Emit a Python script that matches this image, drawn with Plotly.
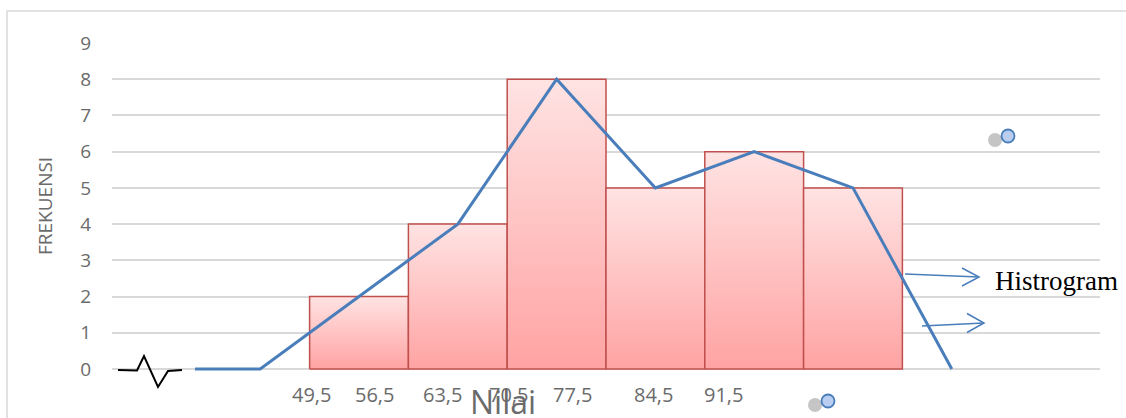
import plotly.graph_objects as go

# ---- data ----
class_bounds = [49.5, 56.5, 63.5, 70.5, 77.5, 84.5, 91.5]
tick_labels = ["49,5", "56,5", "63,5", "70,5", "77,5", "84,5", "91,5"]
frekuensi = [2, 4, 8, 5, 6, 5]
bar_start = 2          # first bar's left edge on the axis (class index units)
poly_start = 0.84      # where the polygon's leading flat segment starts
label_pos = [2.02, 2.66, 3.35, 4.01, 4.66, 5.48, 6.19]

W, H = 1126, 418
L, R, T = 112, 26, 43
Y0_PX = 369
unit_y = (Y0_PX - T) / 9.0
B = 0
ymin = -(H - Y0_PX) / unit_y
XMAX = 10
unit_x = (W - L - R) / XMAX

def dx(px):
    return (px - L) / unit_x

def dy(py):
    return (Y0_PX - py) / unit_y

GRAY = "#6b6b6b"
fig = go.Figure()

# bars with vertical gradient
for i, f in enumerate(frekuensi):
    l = bar_start + i
    r = l + 1
    fig.add_trace(go.Scatter(
        x=[l, l, r, r, l], y=[0, f, f, 0, 0], mode="lines", fill="toself",
        line=dict(color="#C0504D", width=1.5),
        fillgradient=dict(type="vertical",
                          colorscale=[[0, "#FFA3A3"], [1, "#FFE3E3"]]),
        showlegend=False, hoverinfo="skip"))

# frequency polygon
centers = [bar_start + i + 0.5 for i in range(len(frekuensi))]
px_ = [poly_start, bar_start - 0.5] + centers + [bar_start + len(frekuensi) + 0.5]
py_ = [0, 0] + frekuensi + [0]
fig.add_trace(go.Scatter(x=px_, y=py_, mode="lines",
                         line=dict(color="#4A7EBB", width=3),
                         showlegend=False, hoverinfo="skip"))

# small circles with shadow
circ_x = [dx(1008), dx(828)]
circ_y = [dy(136), dy(401)]
fig.add_trace(go.Scatter(x=[c - 13 / unit_x for c in circ_x],
                         y=[c - 4 / unit_y for c in circ_y], mode="markers",
                         marker=dict(size=14, color="rgba(90,90,90,0.35)"),
                         cliponaxis=False, showlegend=False, hoverinfo="skip"))
fig.add_trace(go.Scatter(x=circ_x, y=circ_y, mode="markers",
                         marker=dict(size=13, color="#B9CDF0",
                                     line=dict(color="#4A7EBB", width=1.8)),
                         cliponaxis=False, showlegend=False, hoverinfo="skip"))

shapes = []
# outer border (left + top)
shapes.append(dict(type="path", xref="paper", yref="paper",
                   path="M {a},{b} L {a},{c} L {d},{c}".format(
                       a=(7 - L) / (W - L - R), b=-0.2,
                       c=(H - B - 11) / (H - B - T), d=1.1),
                   line=dict(color="#D9D9D9", width=1.5)))
# zigzag break symbol
zz = [(118, 370), (137, 370.5), (144, 356), (158, 387), (168, 371), (182, 370)]
shapes.append(dict(type="path", xref="x", yref="y",
                   path="M " + " L ".join(f"{dx(a)},{dy(b)}" for a, b in zz),
                   line=dict(color="black", width=2)))
# arrows
for (x1, y1, x2, y2, cy) in [(905, 274, 979, 277, 9), (922, 326, 984, 323, 9.5)]:
    shapes.append(dict(type="line", xref="x", yref="y",
                       x0=dx(x1), y0=dy(y1), x1=dx(x2), y1=dy(y2),
                       line=dict(color="#4A7EBB", width=1.5)))
    shapes.append(dict(type="path", xref="x", yref="y",
                       path=f"M {dx(x2-17)},{dy(y2-cy)} L {dx(x2)},{dy(y2)} L {dx(x2-17)},{dy(y2+cy)}",
                       line=dict(color="#4A7EBB", width=1.5)))

annotations = []
for lab, pos in zip(tick_labels, label_pos):
    annotations.append(dict(x=pos, y=dy(394), xref="x", yref="y", text=lab,
                            showarrow=False, font=dict(size=20, color=GRAY,
                                                       family="Open Sans")))
annotations.append(dict(x=dx(503), y=dy(401), xref="x", yref="y", text="Nilai",
                        showarrow=False,
                        font=dict(size=32, color=GRAY, family="Open Sans")))
annotations.append(dict(x=(45 - L) / (W - L - R), y=dy(206), xref="paper", yref="y",
                        xanchor="center", yanchor="middle",
                        text="FREKUENSI", textangle=-90, showarrow=False,
                        font=dict(size=19, color=GRAY, family="Open Sans")))
annotations.append(dict(x=dx(993), y=dy(281), xref="x", yref="y", text="Histrogram",
                        xanchor="left", showarrow=False,
                        font=dict(size=27, color="black", family="Liberation Serif")))

fig.update_layout(
    width=W, height=H, margin=dict(l=L, r=R, t=T, b=B),
    paper_bgcolor="white", plot_bgcolor="white",
    shapes=shapes, annotations=annotations,
    xaxis=dict(range=[0, XMAX], showgrid=False, zeroline=False,
               showticklabels=False, fixedrange=True),
    yaxis=dict(range=[ymin, 9], tickvals=list(range(10)), showgrid=True,
               gridcolor="#D9D9D9", gridwidth=1.5, zeroline=False,
               tickfont=dict(size=19, color=GRAY, family="Open Sans"),
               ticklabelstandoff=20, fixedrange=True),
)
fig.write_html("out.html")
